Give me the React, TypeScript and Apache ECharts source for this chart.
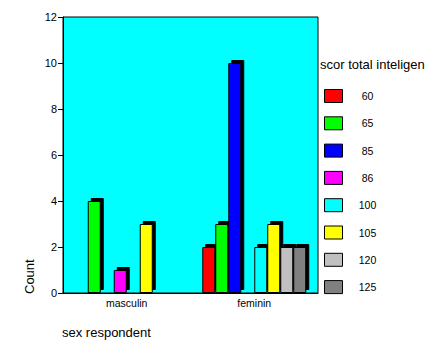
import React, { useEffect, useRef } from "react";
import * as echarts from "echarts";

const categories = ["masculin", "feminin"];
const seriesNames = ["60", "65", "85", "86", "100", "105", "120", "125"];
const seriesColors = ["#ff0000", "#00ff00", "#0000ff", "#ff00ff", "#00ffff", "#ffff00", "#c0c0c0", "#808080"];
// values per series: [masculin, feminin]
const v60 = [null, 2];
const v65 = [4, 3];
const v85 = [null, 10];
const v86 = [1, null];
const v100 = [null, 2];
const v105 = [3, 3];
const v120 = [null, 2];
const v125 = [null, 2];
const seriesValues = [v60, v65, v85, v86, v100, v105, v120, v125];
const yTicks = { min: 0, max: 12, interval: 2 };

const FONT = "Liberation Sans, Arial, sans-serif";

export default function App() {
  const ref = useRef<HTMLDivElement>(null);
  useEffect(() => {
    if (!ref.current) return;
    const chart = echarts.init(ref.current, null, { renderer: "svg" });
    chart.setOption({
      animation: false,
      backgroundColor: "#ffffff",
      textStyle: { fontFamily: FONT },
      grid: {
        left: 63,
        top: 17,
        right: 119,
        bottom: 57,
        show: true,
        backgroundColor: "#00ffff",
        borderColor: "#000000",
        borderWidth: 1,
      },
      xAxis: {
        type: "category",
        data: categories,
        boundaryGap: true,
        axisLine: { lineStyle: { color: "#000", width: 1 } },
        axisTick: { alignWithLabel: true, length: 3, lineStyle: { color: "#000" } },
        axisLabel: { color: "#000", fontSize: 10.5, fontFamily: FONT, margin: 4 },
      },
      yAxis: {
        type: "value",
        min: yTicks.min,
        max: yTicks.max,
        interval: yTicks.interval,
        axisLine: { show: true, lineStyle: { color: "#000", width: 1 } },
        axisTick: { show: true, length: 5, lineStyle: { color: "#000" } },
        axisLabel: { color: "#000", fontSize: 11, fontFamily: FONT, margin: 6 },
        splitLine: { show: false },
      },
      legend: {
        orient: "vertical",
        left: 324,
        top: 89,
        padding: 0,
        itemWidth: 18,
        itemHeight: 13,
        itemGap: 13.3,
        icon: "rect",
        data: seriesNames,
        formatter: "{a|{name}}",
        textStyle: {
          rich: {
            a: { width: 26, height: 13, align: "center", fontSize: 10.5, color: "#000", fontFamily: FONT, padding: [0, 0, 0, 7] },
          },
        },
        itemStyle: { borderColor: "#000", borderWidth: 1 },
      },
      graphic: [
        {
          type: "text",
          left: 320,
          top: 58,
          style: { text: "scor total inteligen", fill: "#000", font: "13px " + FONT },
        },
        {
          type: "text",
          x: 23,
          y: 294,
          rotation: Math.PI / 2,
          style: { text: "Count", font: "13px " + FONT, fill: "#000", textAlign: "left", textVerticalAlign: "top" },
        },
        {
          type: "text",
          left: 62,
          top: 326,
          style: { text: "sex respondent", font: "13px " + FONT, fill: "#000" },
        },
      ],
      series: seriesNames.map((name, i) => ({
        name,
        type: "bar",
        data: seriesValues[i],
        barWidth: 13,
        barGap: "0%",
        itemStyle: {
          color: seriesColors[i],
          borderColor: "#000",
          borderWidth: 1,
          shadowColor: "#000",
          shadowBlur: 0,
          shadowOffsetX: 3,
          shadowOffsetY: -3,
        },
      })),
    });
    return () => chart.dispose();
  }, []);
  return <div ref={ref} style={{ position: "fixed", left: 0, top: 0, width: 437, height: 350 }} />;
}
